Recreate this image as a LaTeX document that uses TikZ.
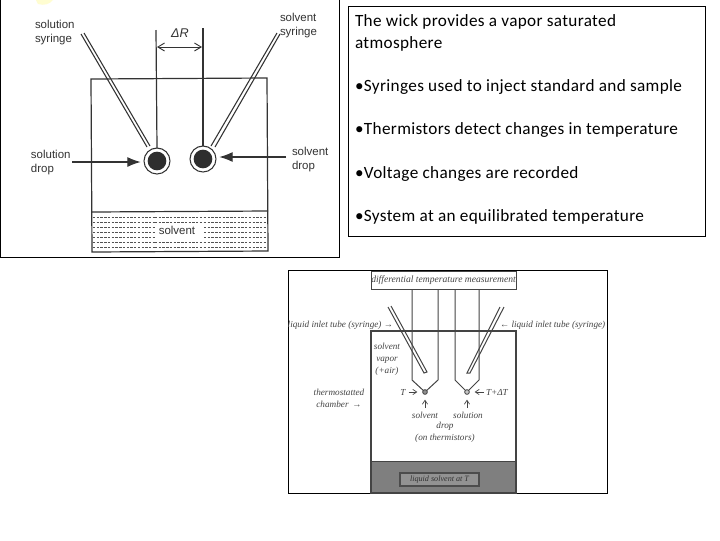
\documentclass[tikz,border=0pt]{standalone}
\usepackage{fontspec}
\setmainfont{Carlito}
\newfontfamily\lefttxt{Liberation Sans}
\newfontfamily\lowtxt{Liberation Serif}
\usetikzlibrary{arrows.meta}
\definecolor{ink}{HTML}{333333}
\definecolor{lowink}{HTML}{444444}
\definecolor{wellgray}{HTML}{7F7F7F}
\tikzset{
 x=0.75pt,y=-0.75pt,
 every node/.style={inner sep=0pt,outer sep=0pt},
 frame/.style={draw=black,line width=0.7pt},
 bullet/.style={anchor=base west,font=\fontsize{12.9}{15}\selectfont,text=black},
 lab/.style={font=\lefttxt\fontsize{8.6}{11}\selectfont,text=ink,align=left},
 ink line/.style={draw=ink,line width=0.9pt},
 tube/.style={draw=ink,line width=0.8pt},
 bigarrow/.style={draw=ink,line width=0.8pt,shorten >=2.5pt,-{Latex[length=10pt,width=7.5pt]}},
 lowlab/.style={font=\lowtxt\itshape\fontsize{6.9}{9}\selectfont,text=lowink,align=center},
 lowline/.style={draw=lowink,line width=0.75pt},
 lowarrow/.style={draw=lowink,line width=0.5pt,shorten >=4pt,-{Straight Barb[length=3pt,width=4pt]}},
 dots/.style={draw=ink!85,line width=0.65pt,dash pattern=on 1.8pt off 1pt},
}
\begin{document}
\begin{tikzpicture}
\useasboundingbox (0,0) rectangle (720,540);
\fill[white] (0,0) rectangle (720,540);
\fill[yellow!18] (36,0) -- (53,0) .. controls (50,4) and (44,6) .. (38,4) -- cycle;
% ---- upper left panel
\draw[frame] (0.5,-2) -- (0.5,257.5) -- (339.5,257.5) -- (339.5,-2);
\coordinate (cTL) at (91,79); \coordinate (cTR) at (267,78);
\coordinate (cBL) at (92,252); \coordinate (cBR) at (268,251);
\coordinate (dL) at (92,212); \coordinate (dR) at (268,211);
\draw[ink line] (cTL) -- (cTR) -- (cBR) -- (cBL) -- cycle;
\draw[ink line] (dL) -- (dR);
\foreach \y in {217,222,227,232,237,242,247}{
  \draw[dots] (93,\y) -- (155,\y);
  \draw[dots] (204,\y) -- (267,\y);
}
\foreach \y in {217,222,242,247}{ \draw[dots] (155,\y) -- (204,\y); }
\node[font=\lefttxt\fontsize{8.6}{11}\selectfont,text=ink] (solv) at (177,230) {solvent};
% thermistor drops
\node[circle,draw=ink,line width=0.8pt,minimum size=19.5pt,fill=white] (dropA) at (157,161) {};
\node[circle,fill=ink!90!black,minimum size=14pt] (coreA) at (157,161) {};
\node[circle,draw=ink,line width=0.8pt,minimum size=19.5pt,fill=white] (dropB) at (203,159) {};
\node[circle,fill=ink!90!black,minimum size=14pt] (coreB) at (203,159) {};
\coordinate (wireA) at (156,30); \coordinate (wireB) at (203,28);
\draw[ink line] (wireA) -- (dropA.north);
\draw[ink line] (wireB) -- (dropB.north);
\coordinate (rA) at (157,47); \coordinate (rB) at (202,47);
\draw[draw=ink,line width=0.7pt,{Straight Barb[length=5pt,width=6pt]}-{Straight Barb[length=5pt,width=6pt]}] (rA) -- (rB);
\node[font=\lefttxt\itshape\fontsize{9.5}{11}\selectfont,text=ink] (dr) at (180,33) {ΔR};
% syringes
\coordinate (s1a) at (81,34); \coordinate (s1b) at (147,147);
\coordinate (s2a) at (84,33); \coordinate (s2b) at (150,146);
\draw[tube] (s1a) -- (s1b); \draw[tube] (s2a) -- (s2b);
\coordinate (s3a) at (277,33); \coordinate (s3b) at (211,146);
\coordinate (s4a) at (280,34); \coordinate (s4b) at (215,147);
\draw[tube] (s3a) -- (s3b); \draw[tube] (s4a) -- (s4b);
% labels
\node[lab,anchor=north west] (l1) at (35,20) {solution\\syringe};
\node[lab,anchor=north west] (l2) at (280,13) {solvent\\syringe};
\node[lab,anchor=north west] (l3) at (31,150) {solution\\drop};
\node[lab,anchor=north west] (l4) at (292,147) {solvent\\drop};
\coordinate (a3) at (72,162); \coordinate (a4) at (286,157);
\draw[bigarrow] (a3) -- (dropA.west |- a3);
\draw[bigarrow] (a4) -- (dropB.east |- a4);
% ---- upper right text box
\node[draw=black,line width=0.7pt,minimum width=357.5pt*0.75,minimum height=230pt*0.75,anchor=north west] (box) at (348,6.5) {};
\node[bullet] (t1) at (355,26) {\addfontfeature{LetterSpace=2}The wick provides a vapor saturated};
\node[bullet] (t1b) at (355,48) {\addfontfeature{LetterSpace=2}atmosphere};
\node[bullet] (t2) at (355,91) {\addfontfeature{LetterSpace=2}•Syringes used to inject standard and sample};
\node[bullet] (t3) at (355,134) {\addfontfeature{LetterSpace=2}•Thermistors detect changes in temperature};
\node[bullet] (t4) at (355,178) {\addfontfeature{LetterSpace=2}•Voltage changes are recorded};
\node[bullet] (t5) at (355,221) {\addfontfeature{LetterSpace=2}•System at an equilibrated temperature};
% ---- lower panel
\draw[frame] (288.5,270.5) rectangle (607,493);
\fill[wellgray] (371,461) rectangle (516,493);
\draw[lowline,line width=0.9pt] (371,331) rectangle (516,493);
\draw[lowline] (371,461) -- (516,461);
\node[draw=lowink,line width=0.7pt,fill=white,minimum width=145pt*0.75,minimum height=18pt*0.75,anchor=north west,lowlab,font=\lowtxt\itshape\fontsize{7.2}{9}\selectfont] (meas) at (371,271) {differential temperature measurement};
\node[draw=black!70,line width=1pt,fill=wellgray!85!white,minimum width=79pt*0.75,minimum height=13pt*0.75,lowlab,font=\lowtxt\itshape\fontsize{6.1}{9}\selectfont,text=black!80] (well) at (439.5,479.5) {liquid solvent at T};
% tubes
\coordinate (p1) at (412,289); \coordinate (p2) at (412,380);
\coordinate (p3) at (438,289); \coordinate (p4) at (438,380);
\coordinate (p5) at (455,289); \coordinate (p6) at (455,380);
\coordinate (p7) at (479,289); \coordinate (p8) at (479,380);
\node[circle,draw=lowink,line width=0.6pt,fill=lowink!60,minimum size=3.5pt] (thA) at (425,392) {};
\node[circle,draw=lowink,line width=0.6pt,fill=lowink!30,minimum size=3.5pt] (thB) at (467,392) {};
\draw[lowline] (p1) -- (p2) -- (thA) -- (p4) -- (p3);
\draw[lowline] (p5) -- (p6) -- (thB) -- (p8) -- (p7);
% lower syringes
\coordinate (q1) at (388,307); \coordinate (q2) at (424,373);
\coordinate (q3) at (391,306); \coordinate (q4) at (427,372);
\coordinate (q5) at (500,307); \coordinate (q6) at (467,373);
\coordinate (q7) at (504,307); \coordinate (q8) at (470,373);
\draw[lowline] (q1) -- (q2) -- (q4) -- (q3);
\draw[lowline] (q5) -- (q6) -- (q8) -- (q7);
% lower labels
\node[lowlab,anchor=east] (u1) at (393,325) {liquid inlet tube (syringe) →};
\node[lowlab,anchor=west] (u2) at (500,325) {← liquid inlet tube (syringe)};
\node[lowlab] (u3) at (387,359) {solvent\\vapor\\(+air)};
\node[lowlab] (u4) at (339,398) {thermostatted\\chamber \,→};
\node[lowlab] (u5) at (403,392) {T};
\node[lowlab,anchor=west] (u6) at (486,392) {T+ΔT};
\draw[lowarrow] (u5.east) ++(3,0) coordinate (v5) -- (thA.west);
\draw[lowarrow] (u6.west) ++(-2,0) coordinate (v6) -- (thB.east);
\node[lowlab] (u7) at (425,415) {solvent};
\node[lowlab] (u8) at (468,415) {solution};
\node[lowlab] (u9) at (445,426) {drop};
\node[lowlab] (u10) at (445,438) {(on thermistors)};
\coordinate (v7) at (425,408); \coordinate (v8) at (467,408);
\draw[lowarrow] (v7) -- (thA.south);
\draw[lowarrow] (v8) -- (thB.south);
\end{tikzpicture}
\end{document}
